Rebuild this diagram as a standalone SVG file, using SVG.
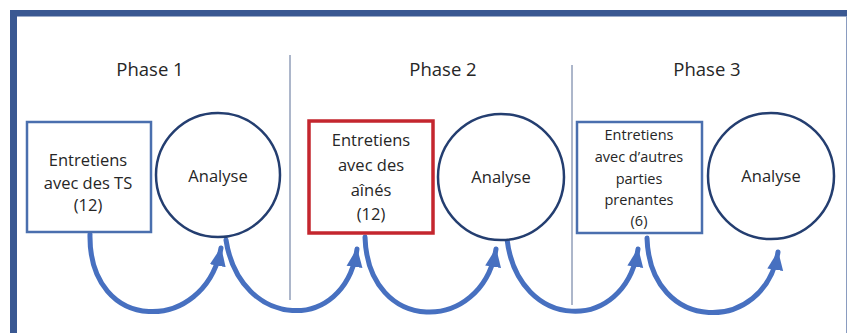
<svg xmlns="http://www.w3.org/2000/svg" width="849" height="333" viewBox="0 0 849 333">
<defs>
<style>
.lbl{font-family:"Open Sans","Liberation Sans",sans-serif;fill:#262626;text-anchor:middle}
.ph{font-size:18.5px}
.t{font-size:16.5px}
.t3{font-size:14.5px}
.box{fill:#fff;stroke:#4a6fae;stroke-width:2.5}
.red{fill:#fff;stroke:#c4262e;stroke-width:3.5}
.circ{fill:#fff;stroke:#243e70;stroke-width:2.5}
.arc{fill:none;stroke:#4770c0;stroke-width:5;stroke-linecap:round}
.div{stroke:#5a6f96;stroke-width:1}
</style>
<marker id="ah" markerUnits="userSpaceOnUse" markerWidth="20" markerHeight="20" viewBox="0 0 20 20" refX="18" refY="10" orient="auto">
<path d="M0,2 L19,10 L0,18 Z" fill="#4770c0"/>
</marker>
</defs>
<rect width="849" height="333" fill="#fff"/>
<g id="frame">
<rect x="10" y="10" width="837" height="6.5" fill="#3a5892"/>
<rect x="10" y="10" width="7" height="323" fill="#3a5892"/>
<line x1="846.5" y1="16" x2="846.5" y2="333" stroke="#8a9cc0" stroke-width="1"/>
<line class="div" x1="290" y1="55" x2="290" y2="300"/>
<line class="div" x1="572" y1="65" x2="572" y2="305"/>
</g>
<g id="phases">
<text class="lbl ph" x="150" y="76">Phase 1</text>
<text class="lbl ph" x="443" y="76">Phase 2</text>
<text class="lbl ph" x="707" y="76">Phase 3</text>
</g>
<g id="connectors">
<path class="arc" d="M90,234 C88,335 205,335 221,248" marker-end="url(#ah)"/>
<path class="arc" d="M226,240 C240,330 345,335 357,249" marker-end="url(#ah)"/>
<path class="arc" d="M365,237 C368,335 482,335 496,249" marker-end="url(#ah)"/>
<path class="arc" d="M507,239 C518,332 625,335 638,249" marker-end="url(#ah)"/>
<path class="arc" d="M647,238 C650,335 765,335 778,252" marker-end="url(#ah)"/>
</g>
<g id="node-entretiens-ts">
<rect class="box" x="27" y="122" width="124" height="110"/>
<text class="lbl t" x="88" y="166">Entretiens</text>
<text class="lbl t" x="88" y="189">avec des TS</text>
<text class="lbl t" x="88" y="211">(12)</text>
</g>
<g id="node-analyse-1">
<circle class="circ" cx="218" cy="175" r="62"/>
<text class="lbl t" x="218" y="182">Analyse</text>
</g>
<g id="node-entretiens-aines">
<rect class="red" x="309" y="121" width="124" height="112"/>
<text class="lbl t" x="371" y="146">Entretiens</text>
<text class="lbl t" x="371" y="171">avec des</text>
<text class="lbl t" x="371" y="196">aînés</text>
<text class="lbl t" x="371" y="220">(12)</text>
</g>
<g id="node-analyse-2">
<circle class="circ" cx="501" cy="177" r="63"/>
<text class="lbl t" x="501" y="183">Analyse</text>
</g>
<g id="node-entretiens-autres">
<rect class="box" x="577" y="122" width="125" height="111"/>
<text class="lbl t3" x="639" y="140">Entretiens</text>
<text class="lbl t3" x="639" y="162">avec d’autres</text>
<text class="lbl t3" x="639" y="184">parties</text>
<text class="lbl t3" x="639" y="205">prenantes</text>
<text class="lbl t3" x="639" y="226">(6)</text>
</g>
<g id="node-analyse-3">
<circle class="circ" cx="771" cy="176" r="63"/>
<text class="lbl t" x="771" y="182">Analyse</text>
</g>
</svg>
